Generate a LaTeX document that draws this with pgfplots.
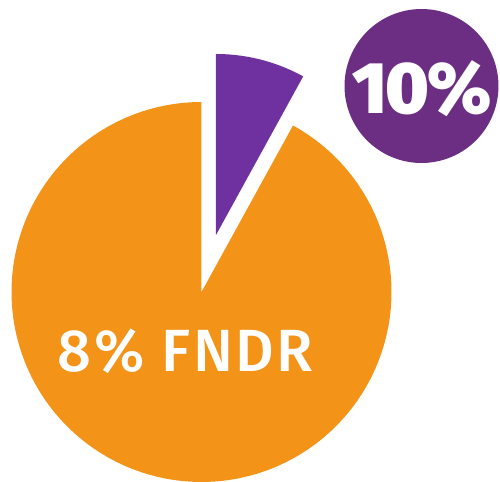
\documentclass[border=0pt]{standalone}
\usepackage{pgfplots}
\pgfplotsset{compat=1.18}
\usepackage{fontspec}
\setmainfont{Fira Sans}
\IfFontExistsTF{Fira Sans Medium}
  {\newfontfamily\labelfont{Fira Sans Medium}[LetterSpace=4]}
  {\newfontfamily\labelfont{Fira Sans}[LetterSpace=4]}
\IfFontExistsTF{Fira Sans Black}
  {\newfontfamily\heavyfont{Fira Sans Black}[LetterSpace=-3]}
  {\newfontfamily\heavyfont{DejaVu Sans}[UprightFont=* Bold]}
\definecolor{pieorange}{HTML}{F39419}
\definecolor{pieviolet}{HTML}{7031A0}
\definecolor{badge}{HTML}{6B2E82}
% slice shares in percent
\def\fndr{8}
\def\rest{92}
\pgfmathsetmacro\angA{\fndr*3.6}
\begin{document}
\begin{tikzpicture}
\begin{axis}[
  width=250pt, height=241pt, scale only axis,
  xmin=0, xmax=500, ymin=0, ymax=482,
  axis lines=none, ticks=none, clip=false,
]
% main (orange) slice, 92 %
\addplot[fill=pieorange, draw=none, domain=\angA:360, samples=200, variable=\t]
  ({201.5+190*sin(\t)}, {190+190*cos(\t)}) -- (axis cs:201.5,190) -- cycle;
% exploded violet slice, 8 %
\addplot[fill=pieviolet, draw=none, domain=0:\angA, samples=60, variable=\t]
  ({216+181*sin(\t)}, {247+181*cos(\t)}) -- (axis cs:216,247) -- cycle;
% badge circle
\addplot[fill=badge, draw=none, domain=0:360, samples=120, variable=\t]
  ({421.5+77*sin(\t)}, {396+77*cos(\t)}) -- cycle;
\node[text=white, font=\labelfont\fontsize{29.8}{30}\selectfont, inner sep=0pt]
  at (axis cs:185.5,130.5) {8\% FNDR};
\node[text=white, font=\heavyfont\fontsize{36.5}{37}\selectfont, inner sep=0pt]
  at (axis cs:422,393.5) {10\%};
\path (rel axis cs:0,0) (rel axis cs:1,1);
\end{axis}
\end{tikzpicture}
\end{document}
